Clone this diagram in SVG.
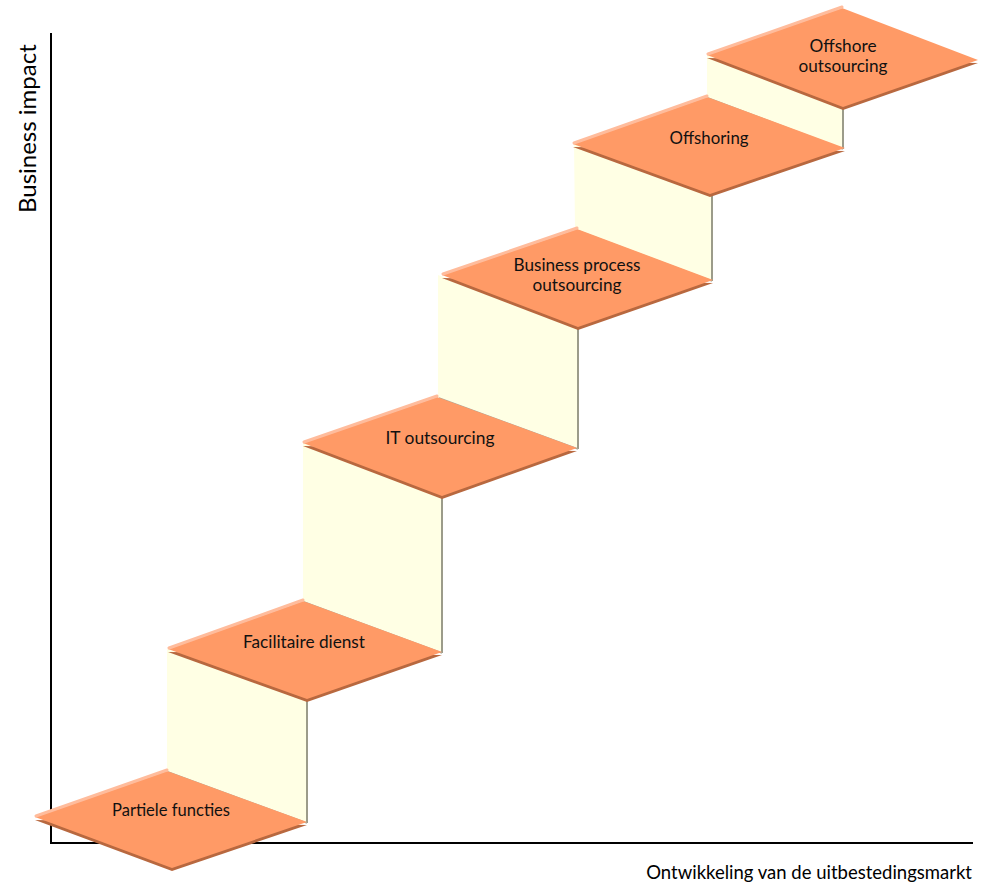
<svg xmlns="http://www.w3.org/2000/svg" width="983" height="896" viewBox="0 0 983 896">
<style>
.axis{stroke:#000;stroke-width:2;fill:none}
.riser{fill:#FFFFE4;stroke:none}
.rEdge{stroke:#9C9C8A;stroke-width:2;fill:none}
.bEdge{stroke:#A8A898;stroke-width:1.5;fill:none}
.shadow{fill:#B8683F}
.top{fill:#FF9A66}
.hl{stroke:#FFBC9C;stroke-width:3;fill:none;stroke-linecap:round}
.lbl{font-family:Lato,"Open Sans","Liberation Sans",sans-serif;font-size:17px;fill:#111;text-anchor:middle}
.ax{font-family:Lato,"Open Sans","Liberation Sans",sans-serif;fill:#000}
</style>
<rect width="983" height="896" fill="#fff"/>
<g id="axes">
<line class="axis" x1="51" y1="33" x2="51" y2="843"/>
<line class="axis" x1="50" y1="843" x2="973" y2="843"/>
<text class="ax" x="972" y="879" font-size="18.5" text-anchor="end">Ontwikkeling van de uitbestedingsmarkt</text>
<text class="ax" font-size="24" transform="translate(36,213) rotate(-90)">Business impact</text>
</g>
<g id="connectors">
<g id="riser1"><polygon class="riser" points="167,649 307,699 307,822 167,771"/><line class="rEdge" x1="307" y1="701" x2="307" y2="823"/><line class="bEdge" x1="168" y1="772" x2="307" y2="823"/></g>
<g id="riser2"><polygon class="riser" points="303,443 442,496 442,652 303,601"/><line class="rEdge" x1="442" y1="498" x2="442" y2="653"/><line class="bEdge" x1="304" y1="602" x2="442" y2="653"/></g>
<g id="riser3"><polygon class="riser" points="438,275 578,327 578,448 438,397"/><line class="rEdge" x1="578" y1="329" x2="578" y2="449"/><line class="bEdge" x1="439" y1="398" x2="578" y2="449"/></g>
<g id="riser4"><polygon class="riser" points="574,144 712,194 712,280 575,229"/><line class="rEdge" x1="712" y1="196" x2="712" y2="281"/><line class="bEdge" x1="576" y1="230" x2="712" y2="281"/></g>
<g id="riser5"><polygon class="riser" points="707,55 843,107 843,148 707,97"/><line class="rEdge" x1="843" y1="109" x2="843" y2="149"/><line class="bEdge" x1="708" y1="98" x2="843" y2="149"/></g>
</g>
<g id="node-partiele">
<polygon class="shadow" points="35,820 307,825 172,871"/>
<polygon class="top" points="35,817 167,771 307,822 172,868"/>
<polyline class="hl" points="36,816 167,770"/>
<text class="lbl" x="171" y="816" textLength="118" lengthAdjust="spacingAndGlyphs">Partiele functies</text>
</g>
<g id="node-facilitaire">
<polygon class="shadow" points="168,652 442,655 307,702"/>
<polygon class="top" points="168,649 303,601 442,652 307,699"/>
<polyline class="hl" points="169,648 303,600"/>
<text class="lbl" x="304" y="648" textLength="122" lengthAdjust="spacingAndGlyphs">Facilitaire dienst</text>
</g>
<g id="node-it">
<polygon class="shadow" points="303,446 577,451 442,499"/>
<polygon class="top" points="303,443 437,397 577,448 442,496"/>
<polyline class="hl" points="304,442 437,396"/>
<text class="lbl" x="440" y="444" textLength="109" lengthAdjust="spacingAndGlyphs">IT outsourcing</text>
</g>
<g id="node-bpo">
<polygon class="shadow" points="442,278 713,283 578,330"/>
<polygon class="top" points="442,275 577,229 713,280 578,327"/>
<polyline class="hl" points="443,274 577,228"/>
<text class="lbl" x="577" y="271" textLength="127" lengthAdjust="spacingAndGlyphs">Business process</text>
<text class="lbl" x="577" y="291" textLength="89" lengthAdjust="spacingAndGlyphs">outsourcing</text>
</g>
<g id="node-offshoring">
<polygon class="shadow" points="573,147 845,151 710,197"/>
<polygon class="top" points="573,144 707,97 845,148 710,194"/>
<polyline class="hl" points="574,143 707,96"/>
<text class="lbl" x="709" y="144" textLength="79" lengthAdjust="spacingAndGlyphs">Offshoring</text>
</g>
<g id="node-offshore">
<polygon class="shadow" points="707,58 978,63 843,110"/>
<polygon class="top" points="707,55 842,8 978,60 843,107"/>
<polyline class="hl" points="708,54 842,7"/>
<text class="lbl" x="843" y="52" textLength="67" lengthAdjust="spacingAndGlyphs">Offshore</text>
<text class="lbl" x="843" y="72" textLength="89" lengthAdjust="spacingAndGlyphs">outsourcing</text>
</g>
</svg>
